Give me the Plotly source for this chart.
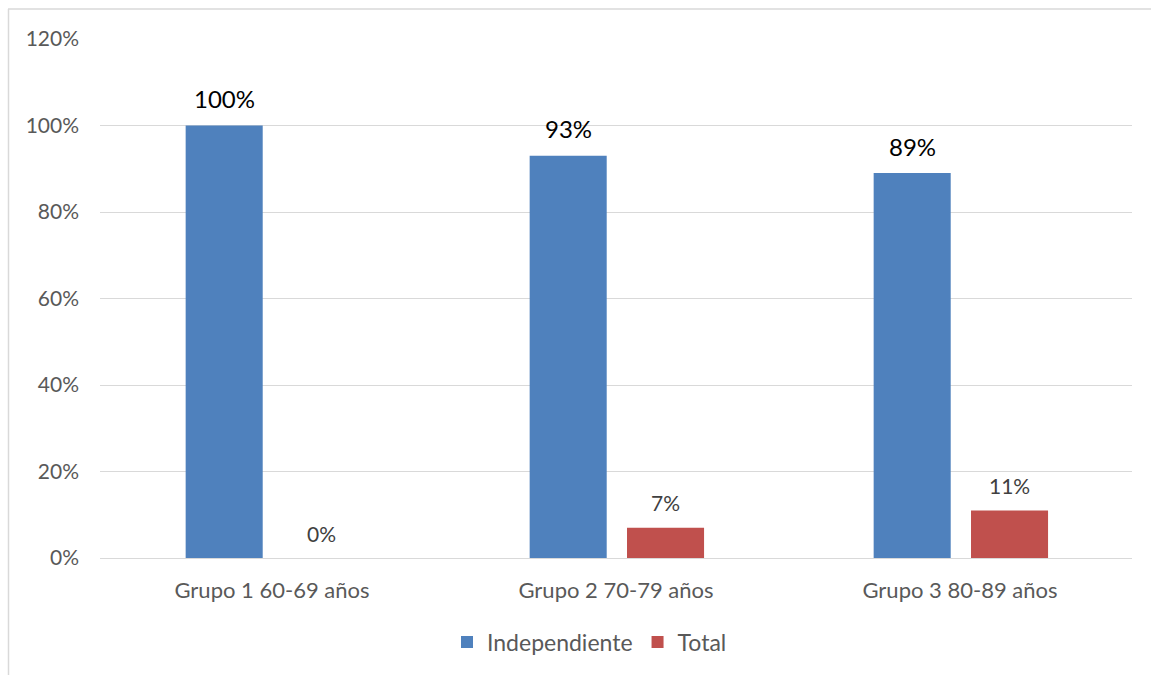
import plotly.graph_objects as go

categories = ["Grupo 1 60-69 años", "Grupo 2 70-79 años", "Grupo 3 80-89 años"]
independiente = [1.00, 0.93, 0.89]
total = [0.00, 0.07, 0.11]
series_names = ["Independiente", "Total"]
colors = ["#4F81BD", "#C0504D"]

FONT = "Lato, Calibri, Carlito, sans-serif"
W, H = 1151, 675
L, R, T, B = 100, 19, 39, 117
pw, ph = W - L - R, H - T - B

xidx = list(range(len(categories)))
bw = 0.224
offs = [-0.251, 0.032]

fig = go.Figure()
for name, vals, col, off in zip(series_names, [independiente, total], colors, offs):
    fig.add_trace(go.Bar(
        x=xidx, y=vals, name=name, marker=dict(color=col, line=dict(width=0)),
        width=bw, offset=off,
    ))

annotations = []
for i in xidx:
    annotations.append(dict(x=i + offs[0] + bw / 2, y=independiente[i], xref="x", yref="y",
                            text=f"{round(independiente[i]*100)}%", showarrow=False,
                            yanchor="middle", yshift=27,
                            font=dict(family=FONT, size=24, color="#000000")))
    annotations.append(dict(x=i + offs[1] + bw / 2, y=total[i], xref="x", yref="y",
                            text=f"{round(total[i]*100)}%", showarrow=False,
                            yanchor="middle", yshift=25,
                            font=dict(family=FONT, size=21, color="#404040")))

px = lambda p: (p - L) / pw
py = lambda p: 1 - (p - T) / ph
shapes = [
    dict(type="line", xref="paper", yref="paper", x0=px(8), x1=px(1160), y0=py(9), y1=py(9),
         line=dict(color="#d9d9d9", width=1.5)),
    dict(type="line", xref="paper", yref="paper", x0=px(8.5), x1=px(8.5), y0=py(9), y1=py(690),
         line=dict(color="#d9d9d9", width=1.5)),
]

fig.update_layout(
    width=W, height=H,
    margin=dict(l=L, r=R, t=T, b=B),
    paper_bgcolor="white", plot_bgcolor="white",
    font=dict(family=FONT, color="#595959", size=22),
    barmode="group",
    showlegend=True,
    legend=dict(orientation="h", x=px(447), xanchor="left", y=py(642), yanchor="middle",
                font=dict(family=FONT, size=23, color="#595959"), itemwidth=30,
                traceorder="normal", itemclick=False),
    annotations=annotations,
    shapes=shapes,
    xaxis=dict(tickmode="array", tickvals=xidx, ticktext=categories, range=[-0.5, 2.5],
               showgrid=False, zeroline=False, showline=False, ticks="",
               tickfont=dict(family=FONT, size=22, color="#595959"), ticklabelstandoff=17),
    yaxis=dict(range=[0, 1.2], dtick=0.2, tick0=0, tickformat=".0%",
               showgrid=True, gridcolor="#d9d9d9", gridwidth=1.3,
               zeroline=True, zerolinecolor="#d9d9d9", zerolinewidth=1.3,
               showline=False, ticks="",
               tickfont=dict(family=FONT, size=21, color="#595959"), ticklabelstandoff=20),
)

fig.write_html("out.html")
